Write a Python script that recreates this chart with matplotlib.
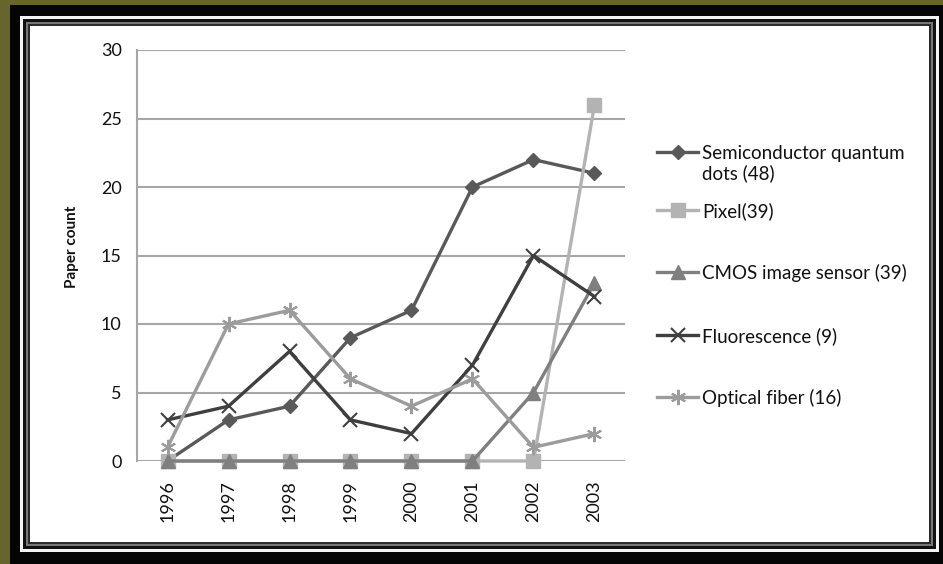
import matplotlib
matplotlib.use("Agg")
import matplotlib.pyplot as plt
from matplotlib.patches import Rectangle
from matplotlib.legend_handler import HandlerLine2D
import numpy as np

years = ["1996", "1997", "1998", "1999", "2000", "2001", "2002", "2003"]
semiconductor = [0, 3, 4, 9, 11, 20, 22, 21]
pixel = [0, 0, 0, 0, 0, 0, 0, 26]
cmos = [0, 0, 0, 0, 0, 0, 5, 13]
fluorescence = [3, 4, 8, 3, 2, 7, 15, 12]
optical = [1, 10, 11, 6, 4, 6, 1, 2]
labels = ["Semiconductor quantum\ndots (48)", "Pixel(39)", "CMOS image sensor (39)",
          "Fluorescence (9)", "Optical fiber (16)"]
yticks = [0, 5, 10, 15, 20, 25, 30]

W, H = 943, 564
FONT = "Lato"
plt.rcParams['font.family'] = [FONT, 'DejaVu Sans']

fig = plt.figure(figsize=(W / 100, H / 100), dpi=100, facecolor="#67652e")


def prect(x0, y0, x1, y1, **kw):
    fig.patches.append(Rectangle((x0 / W, 1 - y1 / H), (x1 - x0) / W, (y1 - y0) / H,
                                 transform=fig.transFigure, figure=fig, **kw))


prect(10, 5, 943, 564, facecolor="#050505", edgecolor="none", zorder=-10)
prect(20, 16, 939, 552, facecolor="#f4f4f4", edgecolor="none", zorder=-9)
prect(23, 19, 936, 549, facecolor="#111111", edgecolor="none", zorder=-8)
prect(26, 22, 933, 546, facecolor="#777777", edgecolor="none", zorder=-7)
prect(28, 24, 931, 544, facecolor="#2a2a2a", edgecolor="none", zorder=-6)
prect(30, 26, 929, 542, facecolor="#ffffff", edgecolor="none", zorder=-5)

ax = fig.add_axes([137 / W, 1 - 461 / H, 488 / W, 411 / H])
ax.set_facecolor("none")
x = np.arange(len(years))

styles = [
    dict(data=semiconductor, color="#595959", marker="D", ms=7.5, mew=1),
    dict(data=pixel, color="#b3b3b3", marker="s", ms=10, mew=1),
    dict(data=cmos, color="#7f7f7f", marker="^", ms=10, mew=1),
    dict(data=fluorescence, color="#3f3f3f", marker="x", ms=10, mew=1.5),
    dict(data=optical, color="#9c9c9c", marker=(6, 2, 0), ms=11, mew=1.5),
]
handles = []
for i, s in enumerate(styles):
    ln, = ax.plot(x, s["data"], color=s["color"], lw=2.4, marker=s["marker"],
                  ms=s["ms"], mew=s["mew"], mec=s["color"], mfc=s["color"],
                  clip_on=False, zorder=3 + i, label=labels[i])
    handles.append(ln)

ax.set_xlim(-0.5, len(years) - 0.5)
ax.set_ylim(0, 30)
ax.set_yticks(yticks)
ax.set_xticks(x)
ax.set_xticklabels(years, rotation=90)
ax.tick_params(axis="both", length=0, labelsize=13, colors="#111111")
ax.tick_params(axis="x", pad=14)
ax.tick_params(axis="y", pad=11)
ax.grid(axis="y", color="#a6a6a6", lw=1.5, zorder=0)
ax.set_axisbelow(True)
for sp in ["top", "right", "bottom"]:
    ax.spines[sp].set_visible(False)
ax.spines["left"].set_color("#a6a6a6")
ax.spines["left"].set_linewidth(1.5)

ax.set_ylabel("Paper count", fontsize=11, fontweight="bold", color="#111111")
ax.yaxis.set_label_coords((79 - 137) / 488, (461 - 247) / 411)


class ShiftHandler(HandlerLine2D):
    def __init__(self, shift, **kw):
        super().__init__(**kw)
        self.shift = shift

    def create_artists(self, legend, orig_handle, xdescent, ydescent, width, height,
                       fontsize, trans):
        arts = super().create_artists(legend, orig_handle, xdescent, ydescent, width,
                                      height, fontsize, trans)
        for a in arts:
            a.set_ydata(np.asarray(a.get_ydata()) + self.shift)
        return arts


row_y = [163.5, 211, 273, 336, 398]
for i, (h, lab) in enumerate(zip(handles, labels)):
    hm = {h: ShiftHandler(8.3, numpoints=1)} if i == 0 else {h: HandlerLine2D(numpoints=1)}
    leg = fig.legend(handles=[h], labels=[lab], loc="center left",
                     bbox_to_anchor=(657 / W, 1 - row_y[i] / H), frameon=False,
                     borderpad=0, borderaxespad=0, handlelength=2.2, handletextpad=0.22,
                     prop={"family": FONT, "size": 13.5}, labelcolor="#111111",
                     handler_map=hm)

fig.savefig("out.png", dpi=100, facecolor=fig.get_facecolor())
